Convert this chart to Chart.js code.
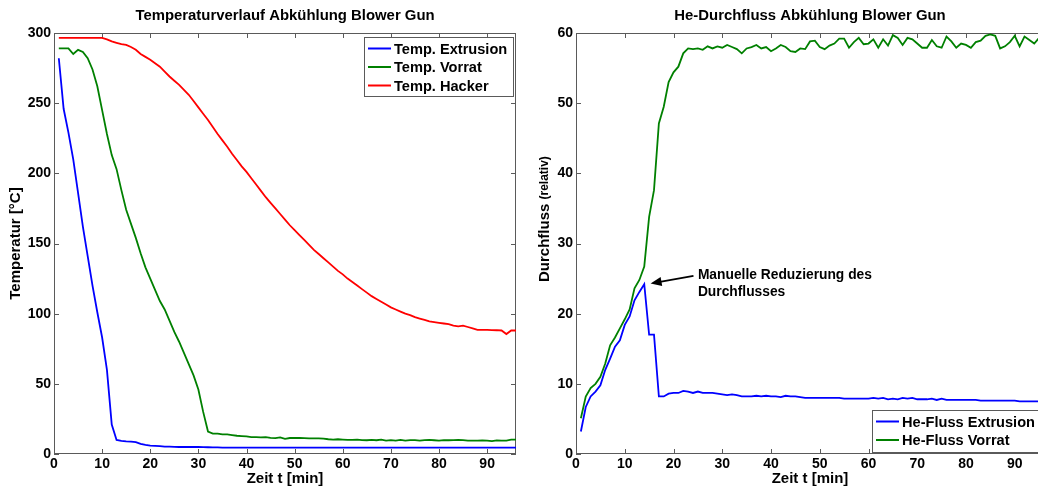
<!DOCTYPE html>
<html>
<head>
<meta charset="utf-8">
<script src="https://cdn.jsdelivr.net/npm/chart.js@4.4.1/dist/chart.umd.min.js"></script>
<style>
    body { margin: 0; background: #fff; overflow: hidden; width: 1038px; height: 488px; position: relative; }
    canvas { position: absolute; top: 0; }
    #grafikTemp { left: 0; }
    #grafikFluss { left: 520px; }
</style>
</head>
<body>
<canvas id="grafikTemp" width="530" height="488"></canvas>
<canvas id="grafikFluss" width="530" height="488"></canvas>
<script>
let zeit = [];
for (let i = 1; i <= 96; i++) zeit.push(i);

let xTicks = [0, 10, 20, 30, 40, 50, 60, 70, 80, 90];
let tempTicks = [0, 50, 100, 150, 200, 250, 300];
let flussTicks = [0, 10, 20, 30, 40, 50, 60];

let tempExtrusion = [282, 246, 229, 210, 186, 162, 141, 120, 101, 83, 60, 21, 10, 9.3, 9, 8.8, 8.4, 7.2, 6.5, 6,
    5.8, 5.6, 5.3, 5.2, 5.1, 5, 5, 5, 5, 5, 4.9, 4.8, 4.7, 4.7, 4.6, 4.6, 4.6, 4.6, 4.6, 4.6,
    4.6, 4.6, 4.6, 4.6, 4.6, 4.6, 4.6, 4.6, 4.6, 4.6, 4.6, 4.6, 4.6, 4.6, 4.6, 4.6, 4.6, 4.6, 4.6, 4.6,
    4.6, 4.6, 4.6, 4.6, 4.6, 4.6, 4.6, 4.6, 4.6, 4.6, 4.6, 4.6, 4.6, 4.6, 4.6, 4.6, 4.6, 4.6, 4.6, 4.6,
    4.6, 4.6, 4.6, 4.6, 4.6, 4.6, 4.6, 4.6, 4.6, 4.6, 4.6, 4.6, 4.6, 4.6, 4.6, 4.6];

let tempVorrat = [289, 289, 289, 285, 288, 286.5, 282, 274, 262, 245, 228, 213, 203, 188, 174, 164, 154, 143, 133, 125,
    117, 109, 103, 95, 87, 80, 72, 64, 56, 46, 30, 16, 14.5, 14.5, 14, 14, 13.5, 13, 12.8, 12.5,
    12, 12, 11.8, 12, 11.5, 11.3, 11.8, 10.8, 11.4, 11.4, 11.4, 11.3, 11.2, 11.2, 11.2, 11, 10.5, 10.3, 10.5, 10.3,
    10, 10, 10.2, 9.9, 9.8, 10, 9.8, 10.2, 9.6, 9.9, 9.6, 10, 9.6, 9.9, 9.9, 9.6, 9.9, 10, 9.8, 9.6,
    9.9, 9.8, 9.9, 10, 9.9, 9.5, 9.5, 9.5, 9.7, 9.6, 9.2, 9.7, 9.5, 9.6, 10.2, 10.3];

let tempHacker = [296.5, 296.5, 296.5, 296.5, 296.5, 296.5, 296.5, 296.5, 296.5, 296.5, 295.5, 294, 293, 292, 291.5, 290, 288, 285, 283, 281,
    278.5, 276, 272.5, 269, 266, 263, 259.5, 256, 251.5, 247, 242.5, 238, 233, 228, 223.5, 219, 214, 209.5, 205, 201,
    196.5, 192, 187.5, 183, 179, 175, 171, 167, 163, 159.5, 156, 152.5, 149, 145.5, 142.5, 139.5, 136.5, 133.5, 130.5, 128,
    125, 122.5, 120, 117.5, 115, 112.5, 110.5, 108.5, 106.5, 104.5, 103, 101.5, 100, 99, 97.5, 96.5, 95.5, 94.5, 94, 93.5,
    93, 92.5, 91.5, 91, 91.5, 90.5, 89.5, 88.5, 88.5, 88.5, 88.3, 88.2, 88, 85.5, 88, 88];

let flussExtrusion = [3.2, 6.7, 8.2, 8.9, 9.8, 12, 13.6, 15.3, 16.2, 18.4, 19.6, 21.9, 23.1, 24.2, 17, 17, 8.2, 8.2, 8.6, 8.7,
    8.7, 9, 8.9, 8.7, 8.9, 8.7, 8.7, 8.7, 8.6, 8.5, 8.4, 8.5, 8.4, 8.2, 8.2, 8.2, 8.3, 8.2, 8.3, 8.2,
    8.2, 8.1, 8.3, 8.2, 8.2, 8.1, 8, 8, 8, 8, 8, 8, 8, 8, 7.9, 7.9, 7.9, 7.9, 7.9, 7.9,
    8, 7.9, 8, 7.8, 7.9, 7.8, 8, 7.9, 8, 7.8, 7.8, 7.8, 7.9, 7.7, 7.9, 7.7, 7.7, 7.7, 7.7, 7.7,
    7.7, 7.7, 7.6, 7.6, 7.6, 7.6, 7.6, 7.6, 7.6, 7.6, 7.5, 7.5, 7.5, 7.5, 7.5, 7.5];

let flussVorrat = [5.1, 8.2, 9.4, 10, 11, 12.9, 15.5, 16.6, 17.9, 19.2, 20.6, 23.6, 24.8, 26.7, 33.8, 37.6, 47.1, 49.5, 53, 54.4,
    55.2, 57.1, 57.8, 57.7, 57.8, 57.6, 58.1, 57.8, 58.1, 57.9, 58.3, 58, 57.7, 57.1, 57.8, 58, 58.3, 57.8, 58, 57.4,
    57.8, 58.3, 58, 57.4, 57.3, 57.8, 57.7, 58.8, 58.9, 58, 57.7, 58.2, 58.5, 59.2, 59.2, 57.9, 58.7, 59.3, 58.4, 58.5,
    59.1, 57.9, 59.1, 58.2, 59.7, 59.3, 58.3, 59.3, 59.1, 58.5, 57.9, 57.9, 59, 58.1, 57.9, 59.5, 58.8, 57.9, 58.5, 58.3,
    57.9, 58.7, 58.9, 59.6, 59.8, 59.6, 57.8, 58.1, 58.7, 59.6, 58.1, 59.5, 59, 58.5, 59.3, 58.6];

let schrift = "'Liberation Sans', Arial, sans-serif";
let grau = "#5a5a5a";

function punkte(werte) {
    return werte.map((v, i) => ({ x: zeit[i], y: v }));
}

function linie(label, werte, farbe) {
    return {
        label: label,
        data: punkte(werte),
        borderColor: farbe,
        backgroundColor: farbe,
        borderWidth: 1.8,
        pointRadius: 0,
        tension: 0
    };
}

// Rahmen mit Ticks nach innen, wie in MATLAB
const rahmenPlugin = {
    id: "rahmen",
    beforeDatasetsDraw(chart) {
        const { ctx, chartArea: a, scales } = chart;
        ctx.save();
        ctx.strokeStyle = grau;
        ctx.lineWidth = 1;
        ctx.strokeRect(Math.round(a.left) + 0.5, Math.round(a.top) + 0.5, Math.round(a.width) - 1, Math.round(a.height) - 1);
        ctx.beginPath();
        scales.x.ticks.forEach(t => {
            let px = Math.round(scales.x.getPixelForValue(t.value)) + 0.5;
            ctx.moveTo(px, a.bottom); ctx.lineTo(px, a.bottom - 5);
            ctx.moveTo(px, a.top); ctx.lineTo(px, a.top + 5);
        });
        scales.y.ticks.forEach(t => {
            let py = Math.round(scales.y.getPixelForValue(t.value)) + 0.5;
            ctx.moveTo(a.left, py); ctx.lineTo(a.left + 5, py);
            ctx.moveTo(a.right, py); ctx.lineTo(a.right - 5, py);
        });
        ctx.stroke();
        ctx.restore();
    }
};

const legendePlugin = {
    id: "boxLegende",
    afterDatasetsDraw(chart, args, opt) {
        const { ctx, chartArea: a } = chart;
        let bx = a.left + opt.links, by = a.top + opt.oben;
        ctx.save();
        ctx.fillStyle = "#fff";
        ctx.fillRect(bx, by, opt.breite, opt.hoehe);
        ctx.strokeStyle = grau;
        ctx.lineWidth = 1;
        ctx.strokeRect(bx + 0.5, by + 0.5, opt.breite, opt.hoehe);
        ctx.font = "bold 14.6px " + schrift;
        ctx.textBaseline = "middle";
        chart.data.datasets.forEach((ds, i) => {
            let yy = by + 11.5 + i * 18.5;
            ctx.strokeStyle = ds.borderColor;
            ctx.lineWidth = 2;
            ctx.beginPath();
            ctx.moveTo(bx + 4, yy); ctx.lineTo(bx + 27, yy);
            ctx.stroke();
            ctx.fillStyle = "#000";
            ctx.fillText(ds.label, bx + 30, yy + 1);
        });
        ctx.restore();
    }
};

const pfeilPlugin = {
    id: "pfeil",
    afterDatasetsDraw(chart) {
        const { ctx, scales: { x, y } } = chart;
        let x0 = x.getPixelForValue(24.1), y0 = y.getPixelForValue(25.4);
        let x1 = x.getPixelForValue(15.3), y1 = y.getPixelForValue(24.3);
        let w = Math.atan2(y1 - y0, x1 - x0);
        ctx.save();
        ctx.strokeStyle = "#000";
        ctx.fillStyle = "#000";
        ctx.lineWidth = 1.8;
        ctx.beginPath();
        ctx.moveTo(x0, y0);
        ctx.lineTo(x1 - 8 * Math.cos(w), y1 - 8 * Math.sin(w));
        ctx.stroke();
        ctx.beginPath();
        ctx.moveTo(x1, y1);
        ctx.lineTo(x1 - 11 * Math.cos(w) + 4.5 * Math.sin(w), y1 - 11 * Math.sin(w) - 4.5 * Math.cos(w));
        ctx.lineTo(x1 - 11 * Math.cos(w) - 4.5 * Math.sin(w), y1 - 11 * Math.sin(w) + 4.5 * Math.cos(w));
        ctx.closePath();
        ctx.fill();
        ctx.font = "bold 13.8px " + schrift;
        ctx.textBaseline = "middle";
        let tx = x.getPixelForValue(25.0);
        ctx.fillText("Manuelle Reduzierung des", tx, y.getPixelForValue(25.5));
        ctx.fillText("Durchflusses", tx, y.getPixelForValue(23.1));
        ctx.restore();
    }
};

// y-Beschriftung mit kleinerem "(relativ)"
const yTitelPlugin = {
    id: "yTitel",
    afterDraw(chart) {
        const ctx = chart.ctx;
        ctx.save();
        ctx.translate(25, 282);
        ctx.rotate(-Math.PI / 2);
        ctx.fillStyle = "#000";
        ctx.textBaseline = "middle";
        ctx.font = "bold 15px " + schrift;
        ctx.fillText("Durchfluss", 0, 0);
        let w = ctx.measureText("Durchfluss ").width;
        ctx.font = "bold 12px " + schrift;
        ctx.fillText("(relativ)", w, 0);
        ctx.restore();
    }
};

function optionen(titel, yMax, yTicks, yTitel, yBreite, rechts, legende) {
    return {
        responsive: false,
        animation: false,
        layout: { padding: { left: 0, right: rechts, top: 0, bottom: 0 } },
        plugins: {
            legend: { display: false },
            tooltip: { enabled: false },
            title: {
                display: true,
                text: titel,
                fullSize: false,
                color: "#000",
                font: { family: schrift, size: 14.9, weight: "bold", lineHeight: "16px" },
                padding: { top: 8, bottom: 9 }
            },
            boxLegende: legende
        },
        scales: {
            x: {
                type: "linear",
                min: 0,
                max: 96,
                afterFit: s => { s.height = 34; },
                afterBuildTicks: s => { s.ticks = xTicks.map(v => ({ value: v })); },
                ticks: { color: "#000", font: { family: schrift, size: 14, weight: "bold" }, padding: 2, maxRotation: 0 },
                grid: { display: true, drawOnChartArea: false, drawTicks: false },
                border: { display: false },
                title: {
                    display: true,
                    text: "Zeit t [min]",
                    color: "#000",
                    font: { family: schrift, size: 15, weight: "bold" },
                    padding: { top: 0, bottom: 0 }
                }
            },
            y: {
                type: "linear",
                min: 0,
                max: yMax,
                afterFit: s => { s.width = yBreite; },
                afterBuildTicks: s => { s.ticks = yTicks.map(v => ({ value: v })); },
                ticks: { color: "#000", font: { family: schrift, size: 14, weight: "bold" }, padding: 3 },
                grid: { display: true, drawOnChartArea: false, drawTicks: false },
                border: { display: false },
                title: {
                    display: yTitel !== "",
                    text: yTitel,
                    color: "#000",
                    font: { family: schrift, size: 15, weight: "bold" },
                    padding: { top: 7, bottom: 0 }
                }
            }
        }
    };
}

new Chart(document.getElementById("grafikTemp"), {
    type: "line",
    data: {
        datasets: [
            linie("Temp. Extrusion", tempExtrusion, "#0000ff"),
            linie("Temp. Vorrat", tempVorrat, "#008000"),
            linie("Temp. Hacker", tempHacker, "#ff0000")
        ]
    },
    options: optionen("Temperaturverlauf Abkühlung Blower Gun", 300, tempTicks, "Temperatur [°C]", 54, 14,
        { links: 310, oben: 4, breite: 149, hoehe: 59 }),
    plugins: [rahmenPlugin, legendePlugin]
});

new Chart(document.getElementById("grafikFluss"), {
    type: "line",
    data: {
        datasets: [
            linie("He-Fluss Extrusion", flussExtrusion, "#0000ff"),
            linie("He-Fluss Vorrat", flussVorrat, "#008000")
        ]
    },
    options: optionen("He-Durchfluss Abkühlung Blower Gun", 60, flussTicks, "", 56, 6,
        { links: 296, oben: 377, breite: 172, hoehe: 42 }),
    plugins: [rahmenPlugin, legendePlugin, pfeilPlugin, yTitelPlugin]
});
</script>
</body>
</html>
